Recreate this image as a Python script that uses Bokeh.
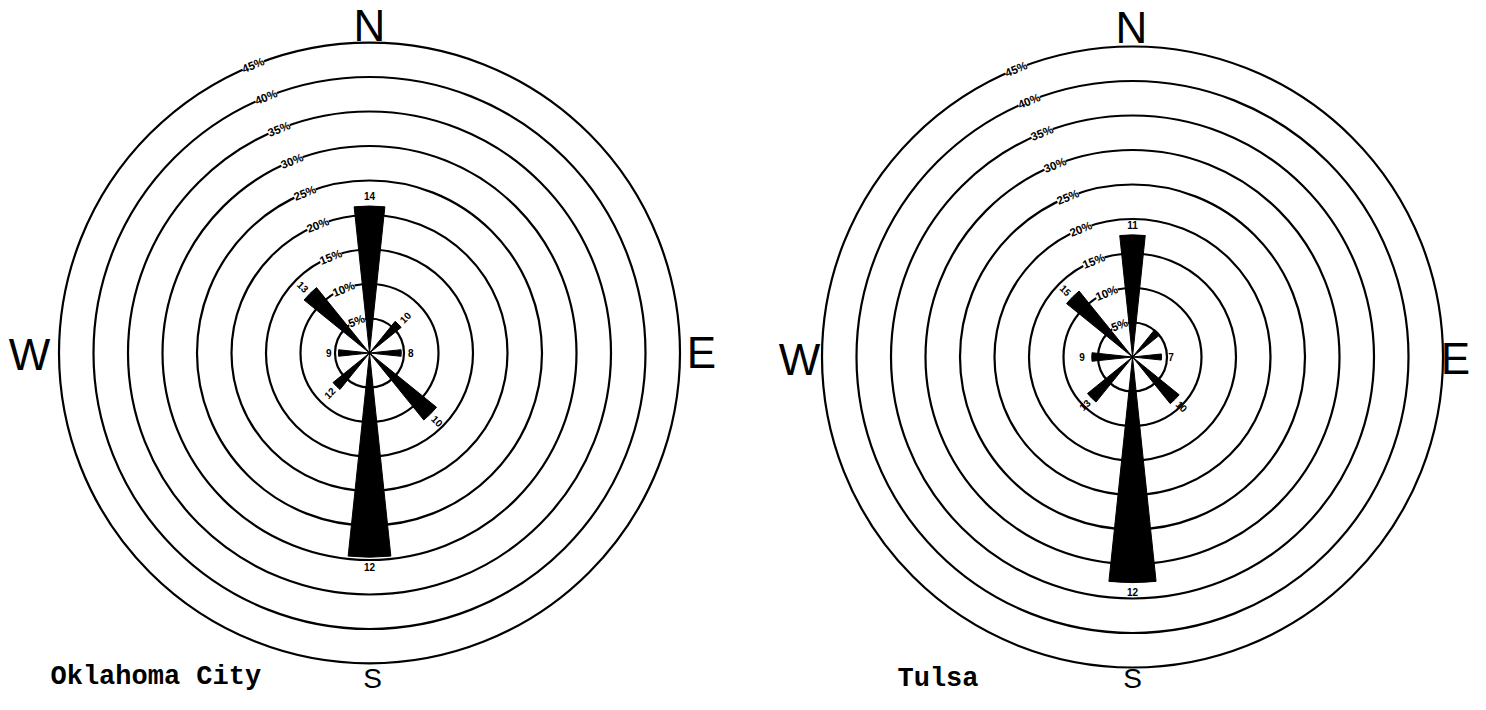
import numpy as np
from bokeh.plotting import figure
from bokeh.models import Range1d, ColumnDataSource
from bokeh.core.properties import value
from bokeh.embed import file_html
from bokeh.resources import INLINE

# ---------------- data ----------------
directions = ["N", "NE", "E", "SE", "S", "SW", "W", "NW"]
bearings = [0, 45, 90, 135, 180, 225, 270, 315]          # degrees clockwise from north
okc_pct = [21.3, 5.9, 4.6, 12.5, 29.6, 6.8, 4.5, 12.2]   # % of time wind from direction
okc_speed = ["14", "10", "8", "10", "12", "12", "9", "13"]
tulsa_pct = [17.7, 5.1, 4.2, 8.7, 32.7, 8.4, 5.9, 12.3]
tulsa_speed = ["11", "", "7", "10", "12", "13", "9", "15"]
ring_pct = [5, 10, 15, 20, 25, 30, 35, 40, 45]
ring_labels = ["5%", "10%", "15%", "20%", "25%", "30%", "35%", "40%", "45%"]
cities = ["Oklahoma City", "Tulsa"]
compass_new = ["N", "E", "W"]
compass_s = "S"

# ---------------- layout ----------------
W, H = 1470, 694
S = 6.9                      # pixels per percent
LCX, LCY = 369.0, 352.5      # left rose centre (frame px)
RCX, RCY = 1132.0, 356.5     # right rose centre (frame px)


def to_data(px, py):
    return (px - LCX) / S, (LCY - py) / S


centres_px = [(LCX, LCY), (RCX, RCY)]
centres = [to_data(*c) for c in centres_px]
petal_half = 6.0             # half angular width of petals (deg)
label_bearing = -22.0        # where ring labels sit
# compass letter anchors (frame px)
compass_px = [[(369, 25), (701, 352), (29, 354)],
              [(1131, 27), (1455, 358), (799, 359)]]
S_letter_px = [(372, 678), (1132, 678)]
city_px = [(50, 676), (897, 678)]

p = figure(width=W, height=H, output_backend="svg", toolbar_location=None,
           x_range=Range1d(-LCX / S, (W - LCX) / S),
           y_range=Range1d(-(H - LCY) / S, LCY / S),
           min_border=0, x_axis_location=None, y_axis_location=None,
           outline_line_color=None, background_fill_color="white",
           border_fill_color="white")
p.xgrid.visible = False
p.ygrid.visible = False

rose_data = [(okc_pct, okc_speed), (tulsa_pct, tulsa_speed)]

for i, ((cx, cy), (pct, speed)) in enumerate(zip(centres, rose_data)):
    # rings
    p.circle(x=[cx] * len(ring_pct), y=[cy] * len(ring_pct), radius=ring_pct,
             fill_color=None, line_color="black", line_width=2.2)

    # ring labels
    la = np.deg2rad(90 - label_bearing)
    rp = np.array(ring_pct, dtype=float)
    p.text(x=cx + rp * np.cos(la), y=cy + rp * np.sin(la), text=ring_labels,
           angle=np.deg2rad(-label_bearing),
           text_align="center", text_baseline="middle",
           text_font=value("Liberation Sans"), text_font_style="bold",
           text_font_size="11.5px", text_color="black",
           background_fill_color="white")

    # petals
    b = np.array(bearings, dtype=float)
    math_ang = np.deg2rad(90.0 - b)
    hw = np.deg2rad(petal_half)
    src = ColumnDataSource(dict(x=[cx] * len(b), y=[cy] * len(b), r=pct,
                                a0=math_ang - hw, a1=math_ang + hw))
    p.wedge(x="x", y="y", radius="r", start_angle="a0", end_angle="a1",
            fill_color="black", line_color="black", source=src)

    # speed labels at petal ends
    rr = np.array(pct) + 1.4
    txt_ang = np.deg2rad([0, 45, 0, -45, 0, 45, 0, -45])
    p.text(x=cx + rr * np.cos(math_ang), y=cy + rr * np.sin(math_ang), text=speed,
           angle=txt_ang,
           text_align="center", text_baseline="middle",
           text_font=value("Liberation Sans"), text_font_style="bold",
           text_font_size="10px", text_color="black")

    # compass letters
    pts = [to_data(*q) for q in compass_px[i]]
    p.text(x=[q[0] for q in pts], y=[q[1] for q in pts], text=compass_new,
           text_align="center", text_baseline="middle",
           text_font=value("Liberation Sans"), text_font_size="44px",
           text_color="black")
    sx, sy = to_data(*S_letter_px[i])
    p.text(x=[sx], y=[sy], text=[compass_s],
           text_align="center", text_baseline="middle",
           text_font=value("Liberation Sans"), text_font_size="28px",
           text_color="black")

for (px_, py_), city in zip(city_px, cities):
    x0, y0 = to_data(px_, py_)
    p.text(x=[x0], y=[y0], text=[city], text_align="left",
           text_baseline="middle", text_font=value("Liberation Mono"),
           text_font_style="bold", text_font_size="27px", text_color="black")

open("out.html", "w").write(file_html(p, INLINE))
